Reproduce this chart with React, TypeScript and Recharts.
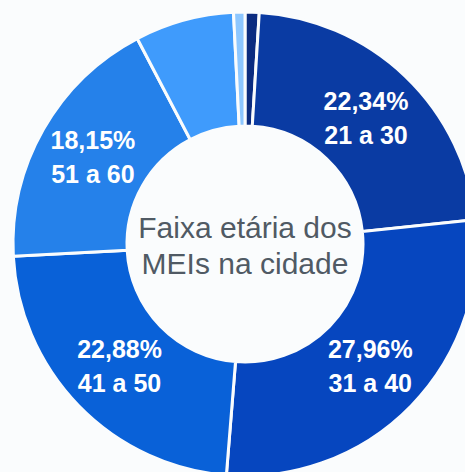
import { PieChart, Pie, Cell } from "recharts";

// faixas etárias, em sentido horário a partir do topo
const faixas = ["Até 20", "21 a 30", "31 a 40", "41 a 50", "51 a 60", "61 a 70", "Acima de 70"];
const percentuais = [0.98, 22.34, 27.96, 22.88, 18.15, 6.9, 0.79];
const cores = ["#0b2c80", "#0a3ba3", "#0646bf", "#0961d8", "#2581ea", "#3f9bfc", "#8dc7ff"];
const faixasRotuladas = ["21 a 30", "31 a 40", "41 a 50", "51 a 60"];

const titulo = ["Faixa etária dos", "MEIs na cidade"];

const BG = "#fafcfd";
const RAD = Math.PI / 180;

const data = faixas.map((name, i) => ({ name, value: percentuais[i] }));

function renderLabel(props: any) {
  const { cx, cy, midAngle, innerRadius, outerRadius, name, value } = props;
  if (!faixasRotuladas.includes(name)) return null;
  const r = (innerRadius + outerRadius) / 2;
  const x = cx + r * Math.cos(-midAngle * RAD);
  const y = cy + r * Math.sin(-midAngle * RAD);
  const pct = value.toFixed(2).replace(".", ",") + "%";
  return (
    <text
      x={x}
      y={y}
      fill="#ffffff"
      textAnchor="middle"
      fontFamily="'Liberation Sans', Arial, sans-serif"
      fontWeight={700}
      fontSize={25}
    >
      <tspan x={x} dy={-8}>{pct}</tspan>
      <tspan x={x} dy={34}>{name}</tspan>
    </text>
  );
}

export default function App() {
  return (
    <div style={{ position: "fixed", left: 0, top: 0, width: 465, height: 472, background: BG, overflow: "hidden" }}>
      <PieChart width={465} height={472} margin={{ top: 0, right: 0, bottom: 0, left: 0 }} style={{ background: BG }}>
        <Pie
          data={data}
          dataKey="value"
          nameKey="name"
          cx={245}
          cy={244}
          innerRadius={118}
          outerRadius={232}
          startAngle={90}
          endAngle={-270}
          stroke={BG}
          strokeWidth={3}
          label={renderLabel}
          labelLine={false}
          isAnimationActive={false}
        >
          {data.map((d, i) => (
            <Cell key={d.name} fill={cores[i]} />
          ))}
        </Pie>
      </PieChart>
      <div
        style={{
          position: "absolute",
          left: 125,
          top: 210,
          width: 240,
          textAlign: "center",
          fontFamily: "'Liberation Sans', Arial, sans-serif",
          fontSize: 30,
          lineHeight: "36px",
          color: "#505a64",
        }}
      >
        {titulo.map((t) => (
          <div key={t}>{t}</div>
        ))}
      </div>
    </div>
  );
}
